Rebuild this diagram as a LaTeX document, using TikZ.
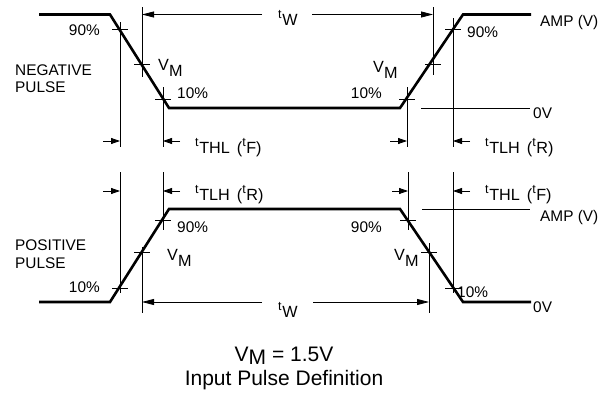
\documentclass[tikz,border=0pt]{standalone}
\usepackage{fontspec}
\setmainfont{Liberation Sans}
\usetikzlibrary{arrows.meta}
\newcommand\lbsize{\fontsize{15.4}{17}\selectfont}
\newcommand\tsize{\fontsize{16.2}{18}\selectfont}
\newcommand\bigsize{\fontsize{21}{24}\selectfont}
\newcommand\tsub[1]{\raisebox{6.5pt}{\fontsize{12.5}{12}\selectfont t}\kern0.6pt#1}
\newcommand\vsub[2]{#1\raisebox{-6.5pt}{#2}}
\newcommand\csub[2]{#1\raisebox{-3.5pt}{#2}}
\tikzset{
  wave/.style={line width=2.6pt, line join=miter},
  thin/.style={line width=0.8pt},
  lab/.style={inner sep=0pt, font=\lbsize},
  tlab/.style={inner sep=0pt, font=\tsize},
  twarrow/.style={line width=0.8pt, -{Triangle[length=12pt,width=6pt]}},
  tarrow/.style={line width=0.8pt, -{Triangle[length=9pt,width=6pt]}},
}
\begin{document}
\begin{tikzpicture}[x=1pt,y=-1pt]
\useasboundingbox (0,0) rectangle (611,394);
% ---------- NEGATIVE PULSE (top) ----------
\coordinate (n0) at (39,14.5);
\coordinate (n1) at (110,14.5);
\coordinate (n2) at (169,108);
\coordinate (n3) at (400,108);
\coordinate (n4) at (463,14.5);
\coordinate (n5) at (531,14.5);
\draw[wave] (n0) -- (n1) -- (n2) -- (n3) -- (n4) -- (n5);
% vertical reference lines
\draw[thin] (120,22) -- (120,147);
\draw[thin] (142,7) -- (142,77);
\draw[thin] (163,87) -- (163,147);
\draw[thin] (407,87) -- (407,147);
\draw[thin] (433,7) -- (433,75);
\draw[thin] (453,18) -- (453,147);
% ticks
\foreach \x/\y in {120/29.5,142/64.5,163/99,407/99,433/64.5,453/29.5}
  \draw[thin] (\x-8,\y) -- (\x+8,\y);
% 0V reference
\coordinate (z0a) at (421,108);
\coordinate (z0b) at (530,108);
\draw[thin] (z0a) -- (z0b);
% tW arrows
\coordinate (twa) at (262,14.5); \coordinate (twb) at (142,14.5);
\coordinate (twc) at (312,14.5); \coordinate (twd) at (433,14.5);
\draw[twarrow] (twa) -- (twb);
\draw[twarrow] (twc) -- (twd);
% tTHL / tTLH arrows
\coordinate (a1s) at (103,141); \coordinate (a1e) at (120,141);
\coordinate (a2s) at (180,141); \coordinate (a2e) at (163,141);
\coordinate (a3s) at (390,141); \coordinate (a3e) at (407,141);
\coordinate (a4s) at (470,141); \coordinate (a4e) at (453,141);
\draw[tarrow] (a1s) -- (a1e);
\draw[tarrow] (a2s) -- (a2e);
\draw[tarrow] (a3s) -- (a3e);
\draw[tarrow] (a4s) -- (a4e);
% labels
\node[lab, anchor=base west] (negA) at (15,75) {NEGATIVE};
\node[lab, anchor=base west] (negB) at (15,92) {PULSE};
\node[lab, anchor=base east] (n90L) at (100,35) {90\%};
\node[tlab, anchor=base west] (nVML) at (158,70) {\vsub{V}{M}};
\node[lab, anchor=base west] (n10L) at (177,98) {10\%};
\node[tlab, anchor=base west] (ntw) at (278,25) {\tsub{W}};
\node[lab, anchor=base west] (nAMP) at (540,26) {AMP (V)};
\node[lab, anchor=base west] (n90R) at (467,37) {90\%};
\node[tlab, anchor=base west] (nVMR) at (373,72) {\vsub{V}{M}};
\node[lab, anchor=base east] (n10R) at (382,98) {10\%};
\node[lab, anchor=base west] (n0V) at (533,118) {0V};
\node[tlab, anchor=base west] (nthl) at (195,153) {\tsub{THL}\hspace{2.5pt} (\tsub{F})};
\node[tlab, anchor=base west] (ntlh) at (485,153) {\tsub{TLH}\hspace{2.5pt} (\tsub{R})};
% ---------- POSITIVE PULSE (bottom) ----------
\coordinate (p0) at (39,302);
\coordinate (p1) at (110,302);
\coordinate (p2) at (169,209);
\coordinate (p3) at (400,209);
\coordinate (p4) at (463,302);
\coordinate (p5) at (531,302);
\draw[wave] (p0) -- (p1) -- (p2) -- (p3) -- (p4) -- (p5);
\draw[thin] (120,172) -- (120,293);
\draw[thin] (142,247) -- (142,313);
\draw[thin] (163,172) -- (163,230);
\draw[thin] (408,172) -- (408,230);
\draw[thin] (429,243) -- (429,313);
\draw[thin] (453,172) -- (453,293);
\foreach \x/\y in {120/288,142/252,163/220,408/220,429/252,453/288}
  \draw[thin] (\x-8,\y) -- (\x+8,\y);
\coordinate (ampa) at (422,209);
\coordinate (ampb) at (530,209);
\draw[thin] (ampa) -- (ampb);
\coordinate (bwa) at (262,302); \coordinate (bwb) at (142,302);
\coordinate (bwc) at (313,302); \coordinate (bwd) at (429,302);
\draw[twarrow] (bwa) -- (bwb);
\draw[twarrow] (bwc) -- (bwd);
\coordinate (b1s) at (103,191); \coordinate (b1e) at (120,191);
\coordinate (b2s) at (180,191); \coordinate (b2e) at (163,191);
\coordinate (b3s) at (392,191); \coordinate (b3e) at (408,191);
\coordinate (b4s) at (470,191); \coordinate (b4e) at (453,191);
\draw[tarrow] (b1s) -- (b1e);
\draw[tarrow] (b2s) -- (b2e);
\draw[tarrow] (b3s) -- (b3e);
\draw[tarrow] (b4s) -- (b4e);
\node[lab, anchor=base west] (posA) at (15,250) {POSITIVE};
\node[lab, anchor=base west] (posB) at (15,268) {PULSE};
\node[tlab, anchor=base west] (ptlh) at (195,200) {\tsub{TLH}\hspace{2.5pt} (\tsub{R})};
\node[lab, anchor=base west] (p90L) at (177,232) {90\%};
\node[tlab, anchor=base west] (pVML) at (167,260) {\vsub{V}{M}};
\node[lab, anchor=base east] (p10L) at (100,292) {10\%};
\node[tlab, anchor=base west] (ptw) at (278,317) {\tsub{W}};
\node[tlab, anchor=base west] (pthl) at (485,200) {\tsub{THL}\hspace{2.5pt} (\tsub{F})};
\node[lab, anchor=base west] (pAMP) at (540,221) {AMP (V)};
\node[lab, anchor=base east] (p90R) at (382,232) {90\%};
\node[tlab, anchor=base west] (pVMR) at (394,260) {\vsub{V}{M}};
\node[lab, anchor=base west] (p10R) at (457,297) {10\%};
\node[lab, anchor=base west] (p0V) at (533,312) {0V};
% ---------- caption ----------
\node[inner sep=0pt, font=\bigsize, anchor=base] (vm) at (284,361) {\csub{V}{M} = 1.5V};
\node[inner sep=0pt, font=\bigsize, anchor=base] (cap) at (284,385) {Input Pulse Definition};
\end{tikzpicture}
\end{document}
